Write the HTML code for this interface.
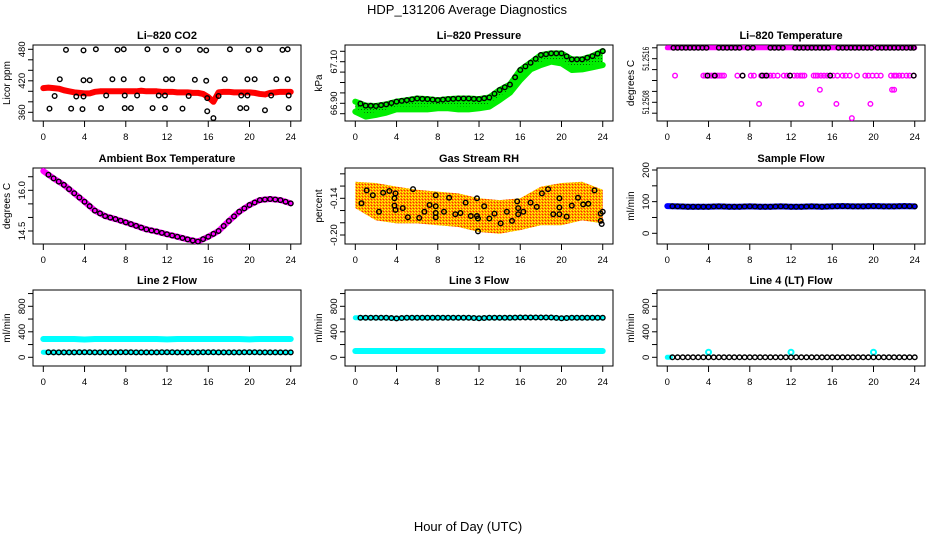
<!DOCTYPE html>
<html><head><meta charset="utf-8"><title>HDP_131206 Average Diagnostics</title>
<style>
html,body{margin:0;padding:0;background:#fff;}
svg{display:block;font-family:"Liberation Sans",Arial,sans-serif;}
</style></head>
<body>
<svg id="chart" width="936" height="540" viewBox="0 0 936 540" xmlns="http://www.w3.org/2000/svg">
<defs>
<pattern id="rhPat" width="3" height="3" patternUnits="userSpaceOnUse">
<rect width="3" height="3" fill="#ff9a00"/><rect x="0" y="0" width="1" height="1" fill="#ffff00"/><rect x="2" y="1" width="1" height="1" fill="#ff2000"/><rect x="1" y="2" width="1" height="1" fill="#ffff00"/>
</pattern>
<pattern id="grPat" width="3" height="3" patternUnits="userSpaceOnUse">
<rect width="3" height="3" fill="#00ee00"/><rect x="1" y="1" width="1" height="1" fill="#006000"/>
</pattern>
</defs>
<text x="467" y="14" font-size="13" text-anchor="middle">HDP_131206  Average Diagnostics</text>
<text x="468" y="531" font-size="13" text-anchor="middle">Hour of Day (UTC)</text>
</svg>
<script>
// ---------- data ----------
const xTicks = [0,4,8,12,16,20,24];
const halfHours = [0.5,1,1.5,2,2.5,3,3.5,4,4.5,5,5.5,6,6.5,7,7.5,8,8.5,9,9.5,10,10.5,11,11.5,12,12.5,13,13.5,14,14.5,15,15.5,16,16.5,17,17.5,18,18.5,19,19.5,20,20.5,21,21.5,22,22.5,23,23.5,24];
const lineHours = [0,0.5,1,1.5,2,2.5,3,3.5,4,4.5,5,5.5,6,6.5,7,7.5,8,8.5,9,9.5,10,10.5,11,11.5,12,12.5,13,13.5,14,14.5,15,15.5,16,16.5,17,17.5,18,18.5,19,19.5,20,20.5,21,21.5,22,22.5,23,23.5,24];
const hourly = [0,1,2,3,4,5,6,7,8,9,10,11,12,13,14,15,16,17,18,19,20,21,22,23,24];

// CO2
const co2Line = [406,407,406,405,402,400,398,397,396,396,399,400,400,400,400,400,400,400,400,401,400,400,400,399,399,399,398,398,398,397,397,395,389,380,398,399,399,398,398,398,398,397,395,394,397,398,399,399,399];
const co2PtHours = [2.2,3.9,5.1,7.2,7.8,10.1,11.9,13.1,15.2,15.8,18.1,19.9,21.0,23.2,23.7, 1.6,3.9,4.5,6.7,7.8,9.6,11.9,12.5,14.7,15.8,17.6,19.8,20.5,22.6,23.7, 1.1,3.2,3.9,6.1,7.9,9.1,11.2,11.8,14.1,15.9,17.0,19.2,19.8,22.1,23.8, 0.6,2.7,3.8,5.6,7.9,8.5,10.6,11.8,13.5,15.9,19.1,19.7,21.5,23.8,16.5];
const co2PtValues = [479,478,480,479,480,480,479,479,479,478,480,479,480,479,480, 423,421,421,423,423,423,423,423,422,420,423,423,423,423,423, 391,390,390,392,392,392,392,392,391,387,391,392,392,392,392, 367,367,366,368,368,368,368,368,367,362,368,368,364,368,349];
const co2Ticks = [360,380,400,420,440,460,480];
const co2Labels = [360,420,480];

// Pressure
const presUpper = [66.908,66.889,66.887,66.895,66.908,66.915,66.923,66.920,66.915,66.920,66.923,66.923,66.920,66.928,66.964,66.990,67.060,67.095,67.132,67.140,67.140,67.111,67.111,67.127,67.151];
const presLower = [66.860,66.836,66.844,66.855,66.871,66.871,66.871,66.871,66.876,66.876,66.871,66.871,66.876,66.884,66.916,66.951,67.012,67.063,67.084,67.100,67.092,67.060,67.063,67.073,67.084];
const presTicks = [66.85,66.90,66.95,67.00,67.05,67.10,67.15];
const presLabels = ["66.90","67.10"];

// Li-820 temperature
const tempTop = 51.2518;
const tempTopBlackHours = [0.6,1,1.4,1.8,2.2,2.6,3,3.4,3.8,5,5.4,5.8,6.2,6.6,7,7.8,8.3,10,10.4,10.8,11.2,12.4,12.8,13.2,13.6,14,14.4,14.8,15.2,15.6,16.6,17,17.4,17.8,18.2,18.6,19,19.4,19.8,20.4,20.8,21.2,21.6,22,22.4,22.8,23.2,23.6,23.9];
const tempMidHours = [0.75,3.5,3.7,3.9,4.1,4.3,4.5,4.7,4.9,5.1,5.3,5.5,6.8,7.3,8.1,8.4,9.1,9.4,9.7,10.0,10.3,10.7,11.3,11.6,11.9,12.3,12.6,12.9,13.1,13.3,14.2,14.4,14.6,14.9,15.2,15.5,15.8,16.1,16.5,17.0,17.3,17.7,18.4,19.2,19.5,19.9,20.3,20.7,21.7,22.0,22.2,22.5,22.8,23.2,23.5,23.9];
const tempMidValue = 51.25129;
const tempMidBlackHours = [3.9,4.6,7.3,9.2,9.6,11.9,15.8,23.9];
const tempLowHours = [14.8,21.8,22.0,8.9,13.0,16.4,19.7,17.9];
const tempLowValues = [51.25103,51.25103,51.25103,51.25077,51.25077,51.25077,51.25077,51.25051];
const tempTicks = [51.2506,51.2508,51.2510,51.2512,51.2514,51.2516,51.2518];
const tempLabels = ["51.2508","51.2516"];

// Ambient box temperature
const ambValues = [16.71,16.44,16.20,15.89,15.58,15.25,15.05,14.94,14.82,14.69,14.56,14.48,14.38,14.29,14.19,14.11,14.29,14.50,14.87,15.21,15.46,15.64,15.68,15.64,15.52];
const ambTicks = [14.5,15.0,15.5,16.0,16.5];
const ambLabels = ["14.5","16.0"];

// Gas stream RH
const rhEnvHours = [0,2,4,6,8,10,12,14,16,18,20,22,24];
const rhUpper = [-0.113,-0.115,-0.121,-0.126,-0.129,-0.132,-0.140,-0.143,-0.140,-0.121,-0.115,-0.113,-0.126];
const rhLower = [-0.156,-0.176,-0.181,-0.181,-0.184,-0.187,-0.195,-0.198,-0.192,-0.184,-0.184,-0.176,-0.181];
const rhPtHours = [0.6,1.1,1.7,2.3,2.7,3.3,3.9,3.8,3.8,3.9,4.6,5.1,5.6,6.2,6.7,7.2,7.8,7.8,7.8,7.8,8.6,9.1,9.7,10.2,10.7,11.2,11.8,11.8,11.9,11.9,12.5,13.0,13.5,14.1,14.7,15.2,15.7,15.8,15.8,16.3,17.0,17.6,18.1,18.7,19.2,19.8,19.8,19.8,20.5,21.0,21.6,22.1,22.6,23.2,23.8,23.8,23.9,24.0];
const rhPtValues = [-0.148,-0.127,-0.135,-0.162,-0.131,-0.128,-0.132,-0.140,-0.152,-0.159,-0.156,-0.171,-0.125,-0.172,-0.162,-0.151,-0.135,-0.153,-0.164,-0.171,-0.162,-0.139,-0.166,-0.164,-0.147,-0.169,-0.169,-0.140,-0.173,-0.194,-0.153,-0.173,-0.165,-0.181,-0.162,-0.177,-0.145,-0.156,-0.166,-0.162,-0.147,-0.154,-0.132,-0.125,-0.166,-0.166,-0.155,-0.140,-0.170,-0.152,-0.139,-0.150,-0.149,-0.127,-0.165,-0.177,-0.182,-0.162];
const rhTicks = [-0.20,-0.18,-0.16,-0.14,-0.12,-0.10];
const rhLabels = ["-0.20","-0.14"];

// Sample flow
const sampleValues = [86,85,84,84,84,85,84,84,85,84,84,85,84,84,85,84,85,86,85,85,86,85,85,86,85];
const sampleTicks = [0,50,100,150,200];
const sampleLabels = [0,100,200];

// Flow panels
const flowTicks = [0,200,400,600,800,1000];
const flowLabels = [0,400,800];
const line2Upper = [287,287,287,287,280,287,287,287,287,287,287,287,282,287,287,287,287,287,287,287,282,287,287,287,287];
const line2Lower = [80,78,78,78,80,78,78,78,80,78,78,78,80,78,78,78,80,78,78,78,80,78,78,78,78];
const line3Upper = [621,621,621,621,610,621,621,621,621,621,621,621,612,621,621,621,625,625,625,625,612,621,621,621,621];
const line3Lower = [99,99,99,99,99,99,99,99,99,99,99,99,99,99,99,99,99,99,99,99,99,99,99,99,99];
const line4Values = [0,0,0,0,0,0,0,0,0,0,0,0,0,0,0,0,0,0,0,0,0,0,0,0,0];
const line4SpikeHours = [4,12,20];
const line4SpikeValues = [80,80,80];

// ---------- drawing ----------
const NS = "http://www.w3.org/2000/svg";
const svg = document.getElementById('chart');
function el(tag, parent){ const e=document.createElementNS(NS,tag); parent.appendChild(e); return e; }
function interp(hrs, vals, h){ for(let i=0;i<hrs.length-1;i++){ if(h>=hrs[i]&&h<=hrs[i+1]){ const t=(h-hrs[i])/(hrs[i+1]-hrs[i]); return vals[i]+t*(vals[i+1]-vals[i]); } } return vals[vals.length-1]; }

const colLeft = [33,345,657];
const rowTop = [45,168,290];
const rowBot = [121,244,366];
const BOXW = 268;

function makePanel(col,row,title,ylab,v1,p1,v2,p2,ticks,labels,name){
  const g = el('g', svg);
  
  
  const L=colLeft[col], T=rowTop[row], B=rowBot[row];
  const x = h => L + 10.3 + h*10.31;
  const y = v => p1 + (v - v1)*(p2-p1)/(v2-v1);
  const box = el('rect', g);
  
  
  box.setAttribute('x',L); box.setAttribute('y',T); box.setAttribute('width',BOXW); box.setAttribute('height',B-T);
  box.setAttribute('fill','none'); box.setAttribute('stroke','#000'); box.setAttribute('stroke-width','1');
  const t = el('text', g);
  
  
  t.setAttribute('x', L+BOXW/2); t.setAttribute('y', T-6); t.setAttribute('font-size','11'); t.setAttribute('font-weight','bold'); t.setAttribute('text-anchor','middle');
  t.textContent = title;
  const yl = el('text', g);
  
  
  yl.setAttribute('transform','translate('+(L-23)+','+((T+B)/2)+') rotate(-90)');
  yl.setAttribute('font-size','10'); yl.setAttribute('text-anchor','middle');
  yl.textContent = ylab;
  const xa = el('g', g);
  
  
  xTicks.forEach(h=>{
    const tk = el('line', xa);
    
    
    tk.setAttribute('x1',x(h)); tk.setAttribute('x2',x(h)); tk.setAttribute('y1',B); tk.setAttribute('y2',B+6); tk.setAttribute('stroke','#000');
    const lb = el('text', xa);
    
    
    lb.setAttribute('x',x(h)); lb.setAttribute('y',B+19); lb.setAttribute('font-size','9.5'); lb.setAttribute('text-anchor','middle');
    lb.textContent = h;
  });
  const ya = el('g', g);
  
  
  ticks.forEach(v=>{
    const tk = el('line', ya);
    
    
    tk.setAttribute('x1',L-5); tk.setAttribute('x2',L); tk.setAttribute('y1',y(v)); tk.setAttribute('y2',y(v)); tk.setAttribute('stroke','#000');
  });
  labels.forEach(v=>{
    const lb = el('text', ya);
    
    
    lb.setAttribute('transform','translate('+(L-8)+','+y(parseFloat(v))+') rotate(-90)');
    lb.setAttribute('font-size','9.5'); lb.setAttribute('text-anchor','middle');
    if(String(v).length>5){ lb.setAttribute('textLength','24'); lb.setAttribute('lengthAdjust','spacingAndGlyphs'); }
    lb.textContent = v;
  });
  return {g,x,y};
}
function band(p, hrs, vals, color, width, name){
  const pl = el('polyline', p.g);
  
  
  pl.setAttribute('points', hrs.map((h,i)=>p.x(h)+','+p.y(vals[i])).join(' '));
  pl.setAttribute('fill','none'); pl.setAttribute('stroke',color); pl.setAttribute('stroke-width',width);
  pl.setAttribute('stroke-linejoin','round'); pl.setAttribute('stroke-linecap','round');
}
function pts(p, hrs, vals, color, name, r, sw){
  hrs.forEach((h,i)=>{
    const c = el('circle', p.g);
    
    
    c.setAttribute('cx',p.x(h)); c.setAttribute('cy',p.y(vals[i])); c.setAttribute('r',r||2.3);
    c.setAttribute('fill','none'); c.setAttribute('stroke',color); c.setAttribute('stroke-width',sw||1.4);
  });
}
function area(p, hrs, up, lo, fill, name){
  const pg = el('polygon', p.g);
  
  
  const a = hrs.map((h,i)=>p.x(h)+','+p.y(up[i]));
  const b = hrs.map((h,i)=>p.x(h)+','+p.y(lo[i])).reverse();
  pg.setAttribute('points', a.concat(b).join(' '));
  pg.setAttribute('fill', fill);
}

const p1 = makePanel(0,0,'Li–820 CO2','Licor ppm',480,49.3,360,112.3,co2Ticks,co2Labels,'co2');
band(p1, lineHours, co2Line, '#ff0000', 6, 'co2-average-line');
pts(p1, co2PtHours, co2PtValues, '#000', 'co2-point');

const p2 = makePanel(1,0,'Li–820 Pressure','kPa',67.10,61.7,66.90,103.3,presTicks,presLabels,'pressure');
area(p2, hourly, presUpper, presLower, 'url(#grPat)', 'pressure-band');
band(p2, hourly, presUpper, '#00ee00', 6, 'pressure-upper-line');
band(p2, hourly, presLower, '#00ee00', 6, 'pressure-lower-line');
pts(p2, halfHours, halfHours.map(h=>interp(hourly,presUpper,h)), '#000', 'pressure-point');

const p3 = makePanel(2,0,'Li–820 Temperature','degrees C',51.2516,58.7,51.2508,102.3,tempTicks,tempLabels,'li820-temp');
band(p3, [0,24], [tempTop,tempTop], '#ff00ff', 5, 'temp-top-line');
pts(p3, tempMidHours, tempMidHours.map(()=>tempMidValue), '#ff00ff', 'temp-mid-point');
pts(p3, tempLowHours, tempLowValues, '#ff00ff', 'temp-low-point');
pts(p3, tempTopBlackHours, tempTopBlackHours.map(()=>tempTop), '#000', 'temp-top-point');
pts(p3, tempMidBlackHours, tempMidBlackHours.map(()=>tempMidValue), '#000', 'temp-mid-black-point');

const p4 = makePanel(0,1,'Ambient Box Temperature','degrees C',16.0,190.3,14.5,231,ambTicks,ambLabels,'ambient-temp');
band(p4, hourly, ambValues, '#ff00ff', 6, 'ambient-line');
pts(p4, halfHours, halfHours.map(h=>interp(hourly,ambValues,h)), '#000', 'ambient-point');

const p5 = makePanel(1,1,'Gas Stream RH','percent',-0.14,198.3,-0.20,235,rhTicks,rhLabels,'gas-rh');
area(p5, rhEnvHours, rhUpper, rhLower, 'url(#rhPat)', 'rh-cloud');
pts(p5, rhPtHours, rhPtValues, '#000', 'rh-point');

const p6 = makePanel(2,1,'Sample Flow','ml/min',200,170,0,233.3,sampleTicks,sampleLabels,'sample-flow');
band(p6, hourly, sampleValues, '#0000ff', 6, 'sample-flow-line');
pts(p6, halfHours, halfHours.map(h=>interp(hourly,sampleValues,h)), '#000', 'sample-flow-point');

const p7 = makePanel(0,2,'Line 2 Flow','ml/min',0,357.3,800,306.3,flowTicks,flowLabels,'line2-flow');
band(p7, hourly, line2Upper, '#00ffff', 6, 'line2-upper');
band(p7, hourly, line2Lower, '#00ffff', 5, 'line2-lower');
pts(p7, halfHours, halfHours.map(h=>interp(hourly,line2Lower,h)), '#000', 'line2-point');

const p8 = makePanel(1,2,'Line 3 Flow','ml/min',0,357.3,800,306.3,flowTicks,flowLabels,'line3-flow');
band(p8, hourly, line3Lower, '#00ffff', 6, 'line3-lower');
band(p8, hourly, line3Upper, '#00ffff', 5, 'line3-upper');
pts(p8, halfHours, halfHours.map(h=>interp(hourly,line3Upper,h)), '#000', 'line3-point');

const p9 = makePanel(2,2,'Line 4 (LT) Flow','ml/min',0,357.3,800,306.3,flowTicks,flowLabels,'line4-flow');
band(p9, [0,0.3], [line4Values[0],line4Values[0]], '#00ffff', 5, 'line4-start');
pts(p9, line4SpikeHours, line4SpikeValues, '#00ffff', 'line4-spike', 2.5, 2);
pts(p9, halfHours, halfHours.map(h=>interp(hourly,line4Values,h)), '#000', 'line4-point');
</script>
</body></html>
